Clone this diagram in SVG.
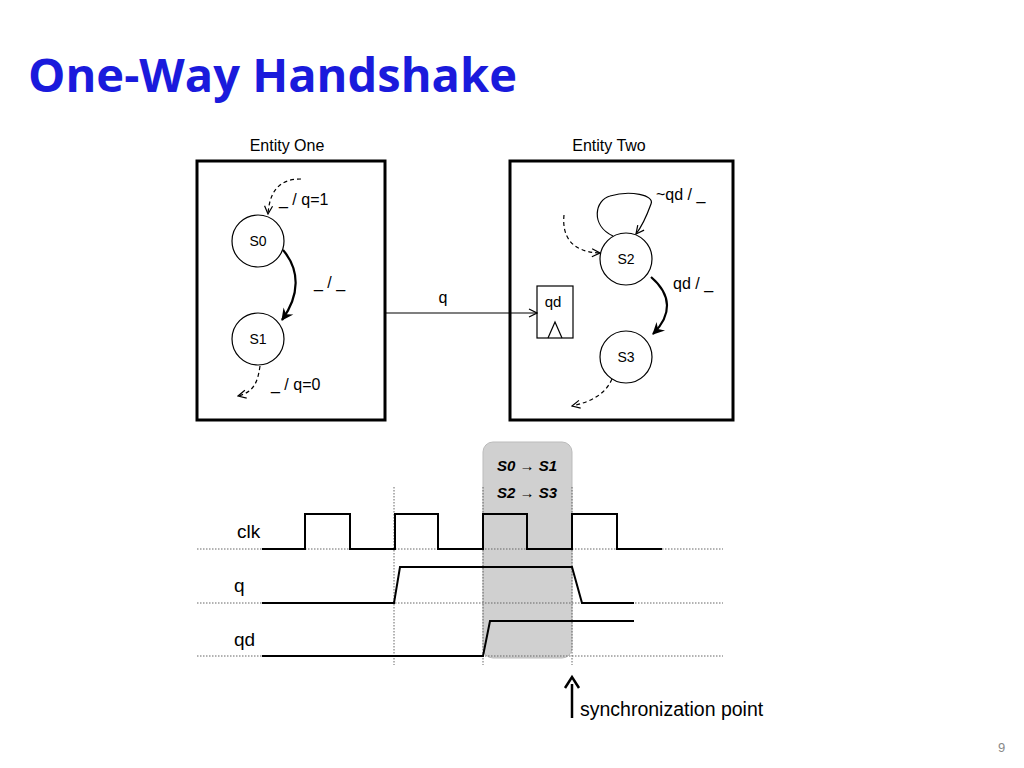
<svg xmlns="http://www.w3.org/2000/svg" width="1024" height="768" viewBox="0 0 1024 768">
<style>
.t{font-family:"Liberation Sans",Arial,sans-serif;fill:#000}
.b{fill:none;stroke:#000;stroke-width:3}
.c{fill:#fff;stroke:#000;stroke-width:1.2}
.d{fill:none;stroke:#000;stroke-width:1.2;stroke-dasharray:4,3}
.w{fill:none;stroke:#000;stroke-width:2.2}
.g{fill:none;stroke:#666;stroke-width:1;stroke-dasharray:1.5,1.5}
</style>
<defs>
<marker id="o" markerWidth="10" markerHeight="10" refX="9" refY="5" orient="auto" markerUnits="userSpaceOnUse"><path d="M1,1 L9,5 L1,9" fill="none" stroke="#000" stroke-width="1.2"/></marker>
<marker id="f" markerWidth="14" markerHeight="14" refX="12" refY="7" orient="auto" markerUnits="userSpaceOnUse"><path d="M1,1 L13,7 L1,13 L5,7 Z" fill="#000"/></marker>
</defs>
<rect width="1024" height="768" fill="#fff"/>
<text x="28" y="92" font-family="'Open Sans','Liberation Sans',sans-serif" font-weight="bold" font-size="46" fill="#1a1adc" textLength="489" lengthAdjust="spacingAndGlyphs">One-Way Handshake</text>
<text x="998" y="752" font-family="'Liberation Sans',sans-serif" font-size="13" fill="#888">9</text>
<g id="entity-one">
<text x="287" y="151" class="t" font-size="16" text-anchor="middle">Entity One</text>
<rect x="197" y="161" width="188" height="259" class="b"/>
</g>
<g id="entity-two">
<text x="609" y="151" class="t" font-size="16" text-anchor="middle">Entity Two</text>
<rect x="510" y="161" width="223" height="259" class="b"/>
</g>
<g id="s0"><circle cx="258" cy="241" r="26" class="c"/><text x="258" y="246" class="t" font-size="14" text-anchor="middle">S0</text></g>
<g id="s1"><circle cx="258" cy="339" r="26" class="c"/><text x="258" y="344" class="t" font-size="14" text-anchor="middle">S1</text></g>
<g id="s2"><circle cx="626" cy="259" r="26" class="c"/><text x="626" y="264" class="t" font-size="14" text-anchor="middle">S2</text></g>
<g id="s3"><circle cx="626" cy="357" r="26" class="c"/><text x="626" y="362" class="t" font-size="14" text-anchor="middle">S3</text></g>
<g id="ff"><rect x="537" y="286" width="36" height="52" class="c"/><text x="553" y="307" class="t" font-size="15" text-anchor="middle">qd</text><path d="M548,338 L555,322 L562,338" fill="none" stroke="#000" stroke-width="1.2"/></g>
<g id="connectors">
<path d="M301,179 C285,179 270,185 268,214" class="d" marker-end="url(#o)"/>
<path d="M283,250 C300,270 300,295 282,320" class="w" marker-end="url(#f)"/>
<path d="M260,366 C258,380 255,392 238,396" class="d" marker-end="url(#o)"/>
<path d="M385,313 L537,313" fill="none" stroke="#000" stroke-width="1.2" marker-end="url(#o)"/>
<path d="M564,215 C562,235 570,252 600,253" class="d" marker-end="url(#o)"/>
<path d="M613,236 C590,225 595,200 610,196 C630,190 655,195 651,204 C647,215 643,225 636,234" fill="none" stroke="#000" stroke-width="1.2" marker-end="url(#o)"/>
<path d="M651,277 C672,295 672,315 653,334" class="w" marker-end="url(#f)"/>
<path d="M612,379 C605,395 590,402 572,406" class="d" marker-end="url(#o)"/>
</g>
<g id="labels" class="t" font-size="16">
<text x="279" y="205">_ / q=1</text>
<text x="314" y="288">_ / _</text>
<text x="443" y="303" text-anchor="middle">q</text>
<text x="271" y="390">_ / q=0</text>
<text x="656" y="200">~qd / _</text>
<text x="673" y="289">qd / _</text>
</g>
<g id="timing">
<rect x="483" y="442" width="89" height="216" rx="10" fill="#d0d0d0" stroke="#bbb"/>
<text x="527" y="471" class="t" font-size="15" font-weight="bold" font-style="italic" text-anchor="middle">S0 → S1</text>
<text x="527" y="498" class="t" font-size="15" font-weight="bold" font-style="italic" text-anchor="middle">S2 → S3</text>
<path d="M197,549H723M197,603H723M197,656H723M394,487V665M483,487V665M572,487V665" class="g"/>
<text x="237" y="538" class="t" font-size="19">clk</text>
<text x="234" y="592" class="t" font-size="19">q</text>
<text x="234" y="646" class="t" font-size="19">qd</text>
<path d="M262,549H305V514H350V549H395V514H438V549H483V514H527V549H572V514H617V549H662" fill="none" stroke="#000" stroke-width="2"/>
<path d="M262,603H394L400,567H572L582,603H634" fill="none" stroke="#000" stroke-width="2"/>
<path d="M262,656H483L490,621H634" fill="none" stroke="#000" stroke-width="2"/>
<path d="M572,718V684" stroke="#000" stroke-width="2.5"/>
<path d="M565,688L572,677L579,688" fill="none" stroke="#000" stroke-width="2.5"/>
<text x="580" y="716" class="t" font-size="19.5">synchronization point</text>
</g>
</svg>
